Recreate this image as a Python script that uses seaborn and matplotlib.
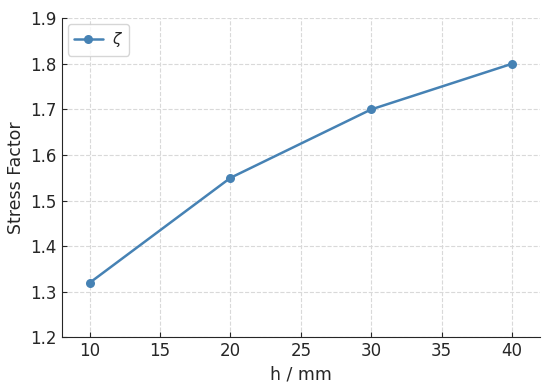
import pandas as pd
import matplotlib.pyplot as plt
import seaborn as sns

h_mm = [10, 20, 30, 40]
stress_factor = [1.32, 1.55, 1.70, 1.80]

df = pd.DataFrame({"h": h_mm, "zeta": stress_factor})

sns.set_style("ticks")
plt.rcParams["font.family"] = ["DejaVu Sans"]

fig, ax = plt.subplots(figsize=(5.5, 3.87), dpi=100)
sns.lineplot(data=df, x="h", y="zeta", marker="o", color="steelblue",
             linewidth=1.8, markersize=6.5, markeredgewidth=0, label=r"$\zeta$", ax=ax)

ax.set_xlim(8, 42)
ax.set_ylim(1.2, 1.9)
ax.set_xticks([10, 15, 20, 25, 30, 35, 40])
ax.grid(True, linestyle="--", color="#d9d9d9", linewidth=0.8)
ax.tick_params(direction="in", labelsize=12)
ax.set_xlabel("h / mm", fontsize=12.5)
ax.set_ylabel("Stress Factor", fontsize=12.5)
sns.despine(ax=ax)
ax.legend(loc="upper left", fontsize=11, handlelength=1.9, handletextpad=0.6,
          borderaxespad=0.4)

fig.subplots_adjust(left=0.112, right=0.982, top=0.953, bottom=0.128)
fig.savefig("out.png", dpi=100)
